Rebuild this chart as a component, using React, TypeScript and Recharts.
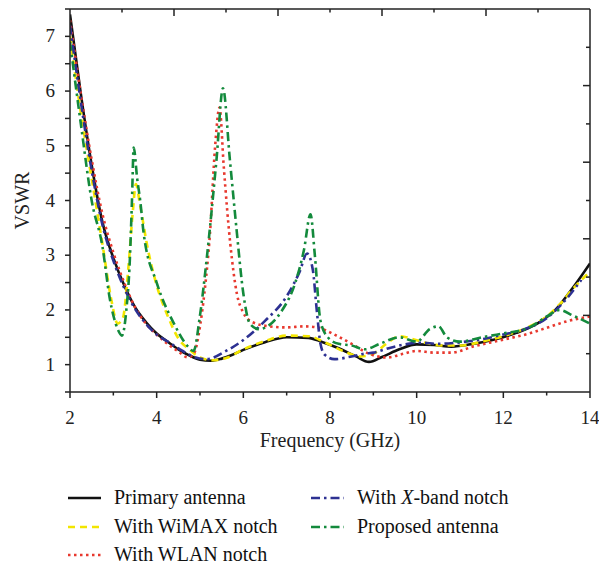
import React from 'react';
import { LineChart, Line, XAxis, YAxis } from 'recharts';

// [frequency GHz, VSWR]
const primaryAntenna: [number, number][] = [
  [2, 7.4], [2.25, 5.95], [2.5, 4.65], [2.75, 3.6], [3.0, 2.95], [3.25, 2.45], [3.5, 2.05],
  [3.75, 1.78], [4.0, 1.57], [4.25, 1.42], [4.5, 1.28], [4.75, 1.17], [5.0, 1.09], [5.25, 1.07],
  [5.5, 1.11], [5.75, 1.18], [6.0, 1.27], [6.5, 1.41], [7.0, 1.5], [7.5, 1.49], [7.8, 1.42],
  [8.2, 1.3], [8.6, 1.15], [8.9, 1.05], [9.2, 1.14], [9.6, 1.28], [10.0, 1.37], [10.4, 1.36],
  [10.8, 1.33], [11.3, 1.38], [11.8, 1.46], [12.3, 1.58], [12.8, 1.76], [13.2, 2.0],
  [13.6, 2.4], [14, 2.85],
];

const wimaxNotch: [number, number][] = [
  [2, 7.0], [2.25, 5.6], [2.5, 4.4], [2.75, 3.2], [2.95, 2.2], [3.1, 1.75], [3.22, 1.85],
  [3.35, 2.8], [3.45, 3.8], [3.52, 4.3], [3.62, 3.9], [3.8, 3.1], [4.0, 2.45], [4.25, 1.9],
  [4.5, 1.48], [4.75, 1.28], [5.0, 1.13], [5.3, 1.08], [5.6, 1.12], [6.0, 1.28], [6.5, 1.43],
  [7.0, 1.53], [7.5, 1.52], [7.9, 1.4], [8.3, 1.25], [8.7, 1.15], [9.0, 1.2], [9.3, 1.38],
  [9.6, 1.52], [9.9, 1.47], [10.2, 1.4], [10.6, 1.35], [11.0, 1.35], [11.5, 1.42],
  [12.0, 1.52], [12.5, 1.66], [13.0, 1.88], [13.3, 2.1], [13.6, 2.38], [14, 2.7],
];

const wlanNotch: [number, number][] = [
  [2, 7.3], [2.25, 5.95], [2.5, 4.75], [2.75, 3.75], [3.0, 3.05], [3.25, 2.5], [3.5, 2.05],
  [3.75, 1.75], [4.0, 1.55], [4.25, 1.38], [4.5, 1.24], [4.72, 1.13], [4.87, 1.22], [5.0, 1.7],
  [5.1, 2.3], [5.23, 3.4], [5.35, 5.0], [5.45, 5.7], [5.55, 4.6], [5.7, 3.2], [5.85, 2.3],
  [6.0, 1.95], [6.2, 1.78], [6.6, 1.7], [7.0, 1.68], [7.4, 1.7], [7.7, 1.68], [8.1, 1.55],
  [8.5, 1.38], [8.9, 1.2], [9.3, 1.13], [9.7, 1.2], [10.0, 1.25], [10.4, 1.22], [10.8, 1.22],
  [11.3, 1.33], [11.9, 1.44], [12.6, 1.57], [13.1, 1.7], [13.5, 1.8], [14, 1.88],
];

const xBandNotch: [number, number][] = [
  [2, 7.2], [2.25, 5.8], [2.5, 4.55], [2.75, 3.55], [3.0, 2.9], [3.25, 2.4], [3.5, 2.02],
  [3.75, 1.75], [4.0, 1.55], [4.3, 1.4], [4.6, 1.25], [4.9, 1.13], [5.15, 1.1], [5.6, 1.25],
  [6.0, 1.45], [6.5, 1.8], [7.0, 2.25], [7.3, 2.7], [7.47, 3.03], [7.6, 2.75], [7.7, 1.95],
  [7.78, 1.38], [7.88, 1.18], [8.1, 1.1], [8.5, 1.15], [8.8, 1.2], [9.0, 1.22], [9.4, 1.31],
  [9.8, 1.38], [10.1, 1.4], [10.5, 1.38], [10.9, 1.4], [11.4, 1.45], [12.0, 1.55],
  [12.5, 1.65], [13.0, 1.85], [13.4, 2.15], [13.8, 2.55],
];

const proposedAntenna: [number, number][] = [
  [2, 6.9], [2.25, 5.4], [2.5, 4.0], [2.75, 3.15], [2.92, 2.2], [3.1, 1.65], [3.2, 1.53],
  [3.3, 2.0], [3.38, 2.9], [3.43, 4.0], [3.47, 4.97], [3.55, 4.4], [3.62, 4.0], [3.7, 3.4],
  [4.0, 2.5], [4.4, 1.75], [4.7, 1.35], [4.85, 1.25], [5.0, 1.9], [5.15, 2.9], [5.38, 4.74],
  [5.53, 6.05], [5.69, 4.74], [5.84, 3.5], [6.0, 2.3], [6.15, 1.75], [6.35, 1.65], [6.9, 2.0],
  [7.2, 2.5], [7.4, 3.1], [7.55, 3.75], [7.65, 3.0], [7.78, 1.8], [7.95, 1.5], [8.2, 1.38],
  [8.5, 1.35], [8.8, 1.28], [9.15, 1.38], [9.6, 1.5], [10.0, 1.42], [10.3, 1.65], [10.5, 1.7],
  [10.7, 1.5], [11.0, 1.42], [11.5, 1.5], [12.0, 1.57], [12.6, 1.68], [13.0, 1.88],
  [13.3, 2.0], [13.6, 1.9], [14, 1.75],
];

const xTicks = [2, 3, 4, 5, 6, 7, 8, 9, 10, 11, 12, 13, 14];
const yTicks = [0.5, 1, 1.5, 2, 2.5, 3, 3.5, 4, 4.5, 5, 5.5, 6, 6.5, 7, 7.5];
// the top and right edges of the box carry their own 10-step tick scale
const frameSteps = [1, 2, 3, 4, 5, 6, 7, 8, 9];

const FONT = '"Liberation Serif", "Times New Roman", Times, serif';
const AXIS = '#222';

// layout
const W = 599;
const H = 567;
const margin = { top: 9, right: 9, left: 0, bottom: 145 };
const Y_AXIS_W = 70;
const X_AXIS_H = 30;
const plot = {
  left: margin.left + Y_AXIS_W,
  right: W - margin.right,
  top: margin.top,
  bottom: H - margin.bottom - X_AXIS_H,
};

const series = [
  { name: 'Primary antenna', data: primaryAntenna, color: '#111111', dash: undefined, width: 2.6 },
  { name: 'With WiMAX notch', data: wimaxNotch, color: '#f2e500', dash: '7 5', width: 2.6 },
  { name: 'With WLAN notch', data: wlanNotch, color: '#e8382e', dash: '2.5 3.5', width: 2.6 },
  { name: 'With X-band notch', data: xBandNotch, color: '#2d3192', dash: '9 4 2.5 4', width: 2.6 },
  { name: 'Proposed antenna', data: proposedAntenna, color: '#138a3c', dash: '9 4 2.5 4', width: 2.6 },
];

const toRows = (pts: [number, number][]) => pts.map(([f, v]) => ({ f, v }));

const BottomTick = (props: any) => {
  const { x, y, payload } = props;
  const major = payload.value % 2 === 0;
  return (
    <g>
      <line x1={x} y1={y} x2={x} y2={y + (major ? 6 : 3.5)} stroke={AXIS} strokeWidth={1.5} />
      {major && (
        <text x={x} y={y + 32} textAnchor="middle" style={{ fontFamily: FONT, fontSize: 19 }} fill="#222">
          {payload.value}
        </text>
      )}
    </g>
  );
};

const LeftTick = (props: any) => {
  const { x, y, payload } = props;
  const major = Number.isInteger(payload.value);
  return (
    <g>
      <line x1={x - 5} y1={y} x2={x} y2={y} stroke={AXIS} strokeWidth={1.5} />
      {major && (
        <text x={x - 15} y={y + 6} textAnchor="end" style={{ fontFamily: FONT, fontSize: 19 }} fill="#222">
          {payload.value}
        </text>
      )}
    </g>
  );
};

// top and right edges of the box with their inward ticks
const Frame = () => {
  const pw = plot.right - plot.left;
  const ph = plot.bottom - plot.top;
  return (
    <svg width={W} height={H} style={{ position: 'absolute', left: 0, top: 0, pointerEvents: 'none' }}>
      <line x1={plot.left} y1={plot.top} x2={plot.right} y2={plot.top} stroke={AXIS} strokeWidth={1.5} />
      <line x1={plot.right} y1={plot.top} x2={plot.right} y2={plot.bottom} stroke={AXIS} strokeWidth={1.5} />
      {frameSteps.map((k) => {
        const x = plot.left + (pw * k) / 10;
        const len = k % 2 === 0 ? 7 : 3.5;
        return <line key={`t${k}`} x1={x} y1={plot.top} x2={x} y2={plot.top + len} stroke={AXIS} strokeWidth={1.5} />;
      })}
      {frameSteps.map((k) => {
        const y = plot.bottom - (ph * k) / 10;
        const len = k % 2 === 0 ? 7 : 4;
        return <line key={`r${k}`} x1={plot.right - len} y1={y} x2={plot.right} y2={y} stroke={AXIS} strokeWidth={1.5} />;
      })}
    </svg>
  );
};

const Legend = () => {
  const rows = [
    { s: series[0], x: 68, y: 498 },
    { s: series[1], x: 68, y: 527 },
    { s: series[2], x: 68, y: 555 },
    { s: series[3], x: 311, y: 498 },
    { s: series[4], x: 311, y: 527 },
  ];
  return (
    <svg width={W} height={H} style={{ position: 'absolute', left: 0, top: 0, pointerEvents: 'none' }}>
      {rows.map(({ s, x, y }) => (
        <g key={s.name}>
          <line x1={x} y1={y} x2={x + 33} y2={y} stroke={s.color} strokeWidth={2.6} strokeDasharray={s.dash} />
          <text x={x + 46} y={y + 6} style={{ fontFamily: FONT, fontSize: 20 }} fill="#111">
            {s.name === 'With X-band notch' ? (
              <>
                With <tspan fontStyle="italic">X</tspan>-band notch
              </>
            ) : (
              s.name
            )}
          </text>
        </g>
      ))}
    </svg>
  );
};

export default function App() {
  return (
    <div style={{ position: 'absolute', left: 0, top: 0, width: W, height: H, background: '#fff' }}>
      <LineChart width={W} height={H} margin={margin}>
        <XAxis
          dataKey="f"
          type="number"
          domain={[2, 14]}
          ticks={xTicks}
          allowDataOverflow
          height={X_AXIS_H}
          stroke={AXIS}
          strokeWidth={1.5}
          tickLine={false}
          tickSize={0}
          tickMargin={0}
          tick={<BottomTick />}
          interval={0}
          label={(p: any) => {
            const vb = p.viewBox || { x: plot.left, y: plot.bottom, width: plot.right - plot.left, height: X_AXIS_H };
            return (
              <text x={vb.x + vb.width / 2} y={vb.y + 55} textAnchor="middle" style={{ fontFamily: FONT, fontSize: 20 }} fill="#222">
                Frequency (GHz)
              </text>
            );
          }}
        />
        <YAxis
          type="number"
          domain={[0.5, 7.5]}
          ticks={yTicks}
          allowDataOverflow
          width={Y_AXIS_W}
          stroke={AXIS}
          strokeWidth={1.5}
          tickLine={false}
          tickSize={0}
          tickMargin={0}
          tick={<LeftTick />}
          interval={0}
          label={(p: any) => {
            const vb = p.viewBox || { x: 0, y: plot.top, width: Y_AXIS_W, height: plot.bottom - plot.top };
            const cx = vb.x + 22;
            const cy = vb.y + vb.height / 2;
            return (
              <text x={cx} y={cy} transform={`rotate(-90, ${cx}, ${cy})`} textAnchor="middle" dominantBaseline="central" style={{ fontFamily: FONT, fontSize: 20 }} fill="#222">
                VSWR
              </text>
            );
          }}
        />
        {series.map((s) => (
          <Line
            key={s.name}
            data={toRows(s.data)}
            dataKey="v"
            type="monotone"
            stroke={s.color}
            strokeWidth={s.width}
            strokeDasharray={s.dash}
            dot={false}
            activeDot={false}
            isAnimationActive={false}
          />
        ))}
      </LineChart>
      <Frame />
      <Legend />
    </div>
  );
}
